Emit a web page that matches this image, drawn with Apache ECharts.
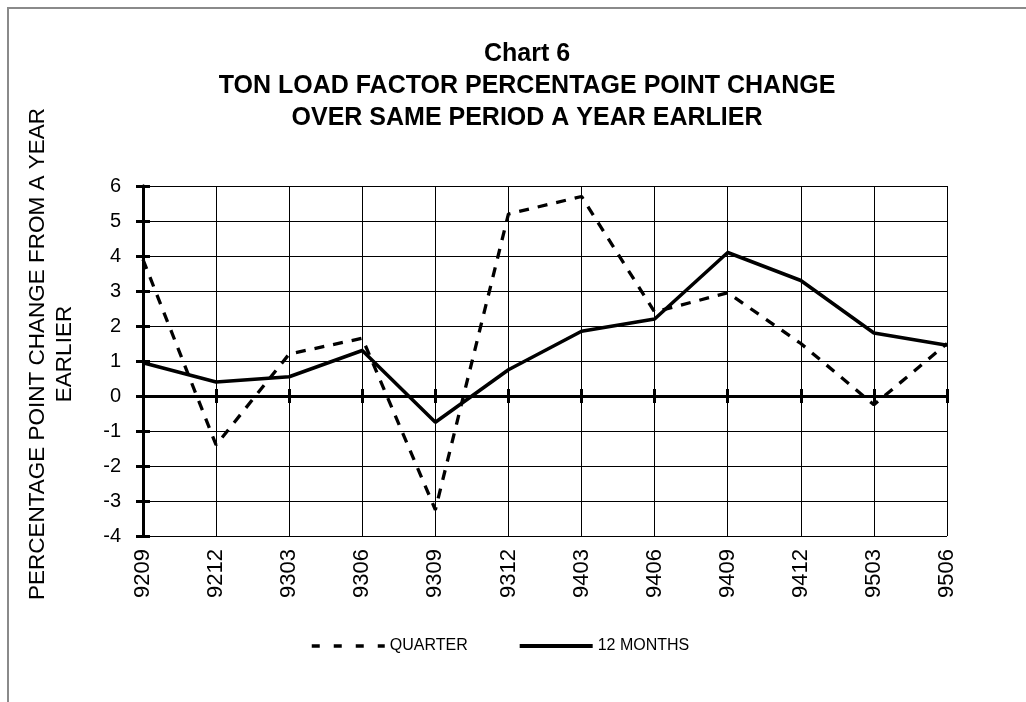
<!DOCTYPE html>
<html>
<head>
<meta charset="utf-8">
<script src="https://cdn.jsdelivr.net/npm/echarts@6/dist/echarts.min.js"></script>
<style>
  html, body { margin: 0; padding: 0; background: #fff; }
  #frame { position: absolute; left: 7px; top: 7px; width: 1100px; height: 800px; border-left: 2px solid #8a8a8a; border-top: 2px solid #8a8a8a; }
  #chart { position: absolute; left: 0; top: 0; width: 1026px; height: 702px; }
</style>
</head>
<body>
<div id="frame"></div>
<div id="chart"></div>
<script>
const periods = ['9209','9212','9303','9306','9309','9312','9403','9406','9409','9412','9503','9506'];
const quarter = [3.9, -1.4, 1.2, 1.65, -3.25, 5.2, 5.7, 2.4, 2.95, 1.5, -0.25, 1.5];
const twelveMonths = [0.95, 0.4, 0.55, 1.3, -0.75, 0.75, 1.85, 2.2, 4.1, 3.3, 1.8, 1.45];
const yMin = -4, yMax = 6, yStep = 1;
const titleLines = ['Chart 6', 'TON LOAD FACTOR PERCENTAGE POINT CHANGE', 'OVER SAME PERIOD A YEAR EARLIER'];
const yName = 'PERCENTAGE POINT CHANGE FROM A YEAR\nEARLIER';

const FONT = "'Liberation Sans', Arial, sans-serif";
const chart = echarts.init(document.getElementById('chart'), null, { renderer: 'canvas' });

const catBase = {
  type: 'category', data: periods, boundaryGap: false, position: 'bottom'
};

chart.setOption({
  backgroundColor: 'transparent',
  animation: false,
  textStyle: { fontFamily: FONT },
  title: {
    text: titleLines.join('\n'),
    left: 522, top: 33, textAlign: 'center',
    textStyle: { fontFamily: FONT, fontSize: 25, fontWeight: 'bold', lineHeight: 32, color: '#000' }
  },
  legend: {
    left: 305, top: 633,
    itemWidth: 73, itemHeight: 14, itemGap: 50,
    textStyle: { fontFamily: FONT, fontSize: 16, color: '#000' },
    itemStyle: { opacity: 0 },
    data: [
      { name: 'QUARTER', lineStyle: { type: [8, 14], width: 3.5, color: '#000' } },
      { name: '12 MONTHS', lineStyle: { type: 'solid', width: 4, color: '#000' } }
    ]
  },
  grid: { left: 143, right: 79, top: 186, bottom: 166, containLabel: false },
  xAxis: [
    Object.assign({}, catBase, {
      axisLine: { show: false, onZero: false },
      axisTick: { show: false },
      axisLabel: { interval: 0, rotate: 90, fontSize: 22, margin: 13, color: '#000', fontFamily: FONT },
      splitLine: { show: true, interval: 0, lineStyle: { color: '#000', width: 1 } }
    }),
    Object.assign({}, catBase, {
      axisLine: { show: true, onZero: true, lineStyle: { color: '#000', width: 3 } },
      axisTick: { show: true, interval: 0, length: 7, lineStyle: { color: '#000', width: 3 } },
      axisLabel: { show: false },
      splitLine: { show: false }
    }),
    Object.assign({}, catBase, {
      axisLine: { show: true, onZero: true, lineStyle: { color: '#000', width: 3 } },
      axisTick: { show: true, inside: true, interval: 0, length: 7, lineStyle: { color: '#000', width: 3 } },
      axisLabel: { show: false },
      splitLine: { show: false }
    })
  ],
  yAxis: [
    {
      type: 'value', min: yMin, max: yMax, interval: yStep, position: 'left',
      axisLine: { show: true, onZero: false, lineStyle: { color: '#000', width: 3 } },
      axisTick: { show: true, length: 7, lineStyle: { color: '#000', width: 3 } },
      axisLabel: { fontSize: 20, margin: 22, color: '#000', fontFamily: FONT },
      splitLine: { show: true, lineStyle: { color: '#000', width: 1 } },
      name: yName, nameLocation: 'middle', nameRotate: 90, nameGap: 65,
      nameTextStyle: { fontFamily: FONT, fontSize: 22.5, lineHeight: 27, color: '#000', padding: [0, 0, 0, 14] }
    },
    {
      type: 'value', min: yMin, max: yMax, interval: yStep, position: 'left',
      axisLine: { show: true, onZero: false, lineStyle: { color: '#000', width: 3 } },
      axisTick: { show: true, inside: true, length: 7, lineStyle: { color: '#000', width: 3 } },
      axisLabel: { show: false },
      splitLine: { show: false }
    }
  ],
  series: [
    {
      name: 'QUARTER', type: 'line', data: quarter, xAxisIndex: 0, yAxisIndex: 0,
      symbol: 'none', z: 5,
      lineStyle: { color: '#000', width: 3.3, type: [10, 9] },
      itemStyle: { color: '#000' }
    },
    {
      name: '12 MONTHS', type: 'line', data: twelveMonths, xAxisIndex: 0, yAxisIndex: 0,
      symbol: 'none', z: 6,
      lineStyle: { color: '#000', width: 3.5, type: 'solid' },
      itemStyle: { color: '#000' }
    }
  ]
});
</script>
</body>
</html>
